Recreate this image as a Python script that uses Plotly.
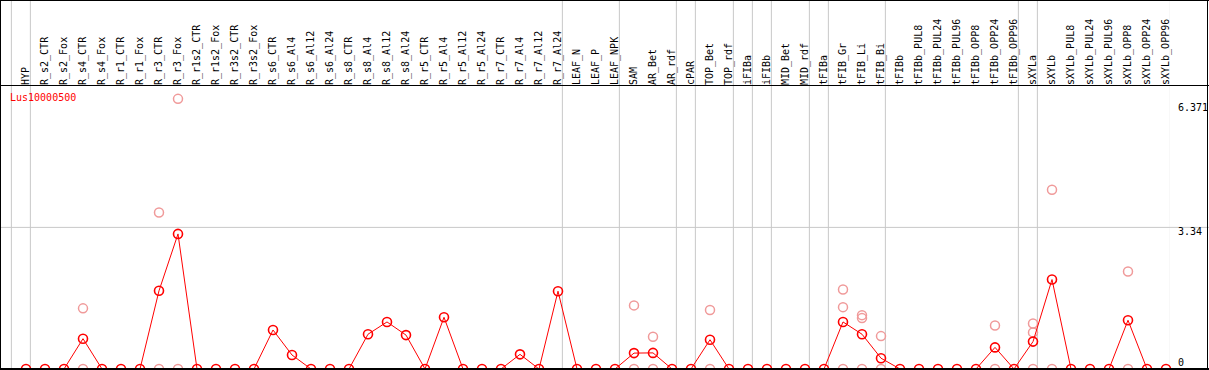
import plotly.graph_objects as go

categories = [
    "HYP", "R_s2_CTR", "R_s2_Fox", "R_s4_CTR", "R_s4_Fox", "R_r1_CTR", "R_r1_Fox",
    "R_r3_CTR", "R_r3_Fox", "R_r1s2_CTR", "R_r1s2_Fox", "R_r3s2_CTR", "R_r3s2_Fox",
    "R_s6_CTR", "R_s6_Al4", "R_s6_Al12", "R_s6_Al24", "R_s8_CTR", "R_s8_Al4",
    "R_s8_Al12", "R_s8_Al24", "R_r5_CTR", "R_r5_Al4", "R_r5_Al12", "R_r5_Al24",
    "R_r7_CTR", "R_r7_Al4", "R_r7_Al12", "R_r7_Al24", "LEAF_N", "LEAF_P", "LEAF_NPK",
    "SAM", "AR_Bet", "AR_rdf", "cPAR", "TOP_Bet", "TOP_rdf", "iFIBa", "iFIBb",
    "MID_Bet", "MID_rdf", "tFIBa", "tFIB_Gr", "tFIB_Li", "tFIB_Bi", "tFIBb",
    "tFIBb_PUL8", "tFIBb_PUL24", "tFIBb_PUL96", "tFIBb_OPP8", "tFIBb_OPP24",
    "tFIBb_OPP96", "sXYLa", "sXYLb", "sXYLb_PUL8", "sXYLb_PUL24", "sXYLb_PUL96",
    "sXYLb_OPP8", "sXYLb_OPP24", "sXYLb_OPP96",
]

mean_values = [
    0, 0, 0, 0.715, 0, 0, 0, 1.845, 3.186, 0, 0, 0, 0,
    0.92, 0.33, 0, 0, 0, 0.82, 1.11, 0.80, 0, 1.22, 0, 0,
    0, 0.345, 0, 1.835, 0, 0, 0,
    0.375, 0.38, 0, 0, 0.69, 0, 0, 0,
    0, 0, 0, 1.11, 0.82, 0.255, 0,
    0, 0, 0, 0, 0.51, 0,
    0.646, 2.11, 0, 0, 0, 1.15, 0, 0,
]

rep_categories = [
    "R_s4_CTR", "R_s4_CTR", "R_r3_CTR", "R_r3_CTR", "R_r3_Fox", "R_r3_Fox",
    "SAM", "SAM", "AR_Bet", "AR_Bet", "TOP_Bet", "TOP_Bet",
    "tFIB_Gr", "tFIB_Gr", "tFIB_Gr", "tFIB_Li", "tFIB_Li", "tFIB_Li",
    "tFIB_Bi", "tFIB_Bi", "tFIBb_OPP24", "tFIBb_OPP24",
    "sXYLa", "sXYLa", "sXYLa", "sXYLb", "sXYLb", "sXYLb_OPP8", "sXYLb_OPP8",
]
rep_values = [
    1.43, 0, 3.69, 0, 6.371, 0,
    1.5, 0, 0.76, 0, 1.39, 0,
    1.875, 1.459, 0, 1.27, 1.2, 0,
    0.776, 0, 1.027, 0,
    1.075, 0.863, 0, 4.228, 0, 2.3, 0,
]

group_last = ["HYP", "R_r7_Al24", "LEAF_NPK", "AR_rdf", "cPAR", "TOP_rdf", "iFIBa",
              "iFIBb", "MID_rdf", "tFIBa", "tFIB_Bi", "tFIBb_OPP96", "sXYLa", "sXYLb_OPP96"]

gene_label = "Lus10000500"
y_max_label = 6.371
y_ref_label = 3.34

MONO = "DejaVu Sans Mono"
W, H = 1209, 370
ML, MR, MT, MB = 0, 39, 86, 1
PW, PH = W - ML - MR, H - MT - MB
step = 19.0
first_px = 26.0
x_lo = -first_px / step
x_hi = (PW - first_px) / step
px_per_unit = 42.4
y_hi = PH / px_per_unit

idx = {c: i for i, c in enumerate(categories)}
xs = list(range(len(categories)))
rep_x = [idx[c] for c in rep_categories]

fig = go.Figure()
fig.add_trace(go.Scatter(
    x=rep_x, y=rep_values, mode="markers", cliponaxis=False,
    marker=dict(symbol="circle-open", size=9, color="#F09A9A", line=dict(width=1.5, color="#F09A9A")),
    showlegend=False, hoverinfo="skip",
))
fig.add_trace(go.Scatter(
    x=xs, y=mean_values, mode="lines+markers", cliponaxis=False,
    line=dict(color="#FF0000", width=1),
    marker=dict(symbol="circle-open", size=9, color="#FF0000", line=dict(width=1.6, color="#FF0000")),
    showlegend=False,
))

shapes = []
top_paper = (H - MB) / PH  # pixel row 0
def py2paper(py):
    return (H - MB - py) / PH
def px2paper(px):
    return (px - ML) / PW

grid_color = "#C8C8C8"
sep_positions = [-1 + 0.23] + [idx[c] + 0.23 for c in group_last]
for xv in sep_positions:
    shapes.append(dict(type="line", xref="x", yref="paper", x0=xv, x1=xv,
                       y0=0, y1=top_paper, line=dict(color=grid_color, width=1), layer="below"))
shapes.append(dict(type="line", xref="paper", yref="y", x0=px2paper(0), x1=px2paper(W),
                   y0=y_ref_label, y1=y_ref_label, line=dict(color=grid_color, width=1), layer="below"))
black = "#000000"
shapes.append(dict(type="line", xref="paper", yref="paper", x0=px2paper(0), x1=px2paper(W),
                   y0=py2paper(0.5), y1=py2paper(0.5), line=dict(color=black, width=1)))
shapes.append(dict(type="line", xref="paper", yref="paper", x0=px2paper(0), x1=px2paper(W),
                   y0=py2paper(85.5), y1=py2paper(85.5), line=dict(color=black, width=1)))
shapes.append(dict(type="line", xref="paper", yref="paper", x0=px2paper(0.5), x1=px2paper(0.5),
                   y0=py2paper(370), y1=py2paper(0), line=dict(color=black, width=1)))
shapes.append(dict(type="line", xref="paper", yref="paper", x0=px2paper(1207.5), x1=px2paper(1207.5),
                   y0=py2paper(370), y1=py2paper(0), line=dict(color=black, width=1)))
shapes.append(dict(type="line", xref="paper", yref="paper", x0=px2paper(0), x1=px2paper(W),
                   y0=py2paper(369), y1=py2paper(369), line=dict(color=black, width=2)))

annotations = [
    dict(text=gene_label, xref="paper", yref="paper", x=px2paper(8), y=py2paper(97.5),
         xanchor="left", yanchor="middle", showarrow=False, font=dict(family=MONO, size=10, color="#FF0000")),
    dict(text=f"{y_max_label}", xref="paper", yref="y", x=px2paper(1176), y=y_max_label,
         xanchor="left", yanchor="middle", yshift=-8.5, showarrow=False, font=dict(family=MONO, size=10, color="#000")),
    dict(text=f"{y_ref_label}", xref="paper", yref="y", x=px2paper(1176), y=y_ref_label,
         xanchor="left", yanchor="middle", yshift=-4, showarrow=False, font=dict(family=MONO, size=10, color="#000")),
    dict(text="0", xref="paper", yref="y", x=px2paper(1176), y=0,
         xanchor="left", yanchor="middle", yshift=7, showarrow=False, font=dict(family=MONO, size=10, color="#000")),
]

fig.update_layout(
    width=W, height=H,
    margin=dict(l=ML, r=MR, t=MT, b=MB, pad=0),
    paper_bgcolor="white", plot_bgcolor="white",
    shapes=shapes, annotations=annotations,
    xaxis=dict(range=[x_lo, x_hi], side="top", tickmode="array", tickvals=xs, ticktext=categories,
               tickangle=-90, tickfont=dict(family=MONO, size=10, color="#000"),
               showgrid=False, zeroline=False, showline=False, ticks="", fixedrange=True),
    yaxis=dict(range=[0, y_hi], showgrid=False, zeroline=False, showline=False,
               showticklabels=False, ticks="", fixedrange=True),
    showlegend=False,
)

fig.write_html(
    "out.html",
    config={"displayModeBar": False},
    post_script="document.body.style.margin='0';document.body.style.padding='0';document.body.style.overflow='hidden';",
)
